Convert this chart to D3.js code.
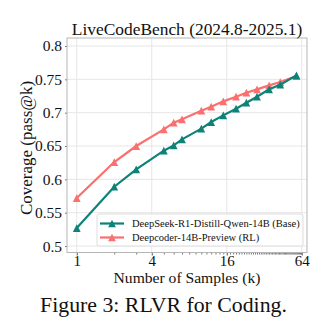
<!DOCTYPE html>
<html>
<head>
<meta charset="utf-8">
<script src="https://cdn.jsdelivr.net/npm/d3@7"></script>
<style>
  body { margin: 0; background: #fff; }
  svg text { font-family: "Liberation Serif", "Times New Roman", serif; fill: #111; }
</style>
</head>
<body>
<svg id="chart" width="334" height="324"></svg>
<script>
// sample counts (k) and pass@k coverage for each model
const samples = [1, 2, 3, 5, 6, 7, 10, 12, 15, 19, 23, 28, 35, 43, 58];
const baseCoverage = [0.527, 0.589, 0.615, 0.643, 0.651, 0.660, 0.676, 0.686, 0.696, 0.706, 0.715, 0.724, 0.735, 0.742, 0.756];
const rlCoverage = [0.572, 0.626, 0.650, 0.675, 0.685, 0.690, 0.703, 0.709, 0.717, 0.724, 0.730, 0.735, 0.741, 0.746, 0.755];
const seriesNames = ['DeepSeek-R1-Distill-Qwen-14B (Base)', 'Deepcoder-14B-Preview (RL)'];
const seriesColors = ['#0e8277', '#fb6f6f'];
const xTicks = [1, 4, 16, 64];
const yTicks = [0.5, 0.55, 0.6, 0.65, 0.7, 0.75, 0.8];

const plotLeft = 67, plotRight = 307, plotTop = 38, plotBottom = 252.5;
const svg = d3.select('#chart');

const xScale = d3.scaleLog().base(2)
                 .domain([Math.pow(2, -0.26), Math.pow(2, 6.14)])
                 .range([plotLeft, plotRight]);
const yScale = d3.scaleLinear()
                 .domain([0.4903, 0.812])
                 .range([plotBottom, plotTop]);

// grid
svg.append('g').selectAll('line').data(xTicks).join('line')
   .attr('x1', d => xScale(d)).attr('x2', d => xScale(d))
   .attr('y1', plotTop).attr('y2', plotBottom)
   .attr('stroke', '#e6e6e6').attr('stroke-width', 1);
svg.append('g').selectAll('line').data(yTicks).join('line')
   .attr('x1', plotLeft).attr('x2', plotRight)
   .attr('y1', d => yScale(d)).attr('y2', d => yScale(d))
   .attr('stroke', '#e6e6e6').attr('stroke-width', 1);

// minor ticks on the log axis
const minor = d3.range(1, 65).filter(d => !xTicks.includes(d) && xScale(d) <= plotRight);
const xAxis = d3.axisBottom(xScale).tickValues(xTicks).tickFormat(d3.format('d')).tickSize(3).tickPadding(1);
const xMinor = d3.axisBottom(xScale).tickValues(minor).tickFormat('').tickSize(2);
const yAxis = d3.axisLeft(yScale).tickValues(yTicks).tickFormat(d => String(d)).tickSize(2).tickPadding(3);

svg.append('g').attr('transform', 'translate(0,' + plotBottom + ')').call(xMinor)
   .call(g => g.select('.domain').remove())
   .call(g => g.selectAll('line').attr('stroke', '#777'));
svg.append('g').attr('transform', 'translate(0,' + plotBottom + ')').call(xAxis)
   .call(g => g.select('.domain').remove())
   .call(g => g.selectAll('line').attr('stroke', '#555'))
   .call(g => g.selectAll('text').style('font-size', '15px').attr('dy', '0.62em').attr('fill', '#111'));
svg.append('g').attr('transform', 'translate(' + plotLeft + ',0)').call(yAxis)
   .call(g => g.select('.domain').remove())
   .call(g => g.selectAll('line').attr('stroke', '#777'))
   .call(g => g.selectAll('text').style('font-size', '15.5px').attr('fill', '#111'));

// plot frame
svg.append('rect')
   .attr('x', plotLeft).attr('y', plotTop)
   .attr('width', plotRight - plotLeft).attr('height', plotBottom - plotTop)
   .attr('fill', 'none').attr('stroke', '#b5b5b5').attr('stroke-width', 1);

// triangle marker centred on its box, like matplotlib '^'
const tri = { draw(ctx, size) { const r = Math.sqrt(size) / 2; ctx.moveTo(0, -r); ctx.lineTo(r, r); ctx.lineTo(-r, r); ctx.closePath(); } };
const marker = d3.symbol().type(tri).size(60);

const line = d3.line().x(d => xScale(d[0])).y(d => yScale(d[1]));
const series = [rlCoverage, baseCoverage];
const colorsByDraw = [seriesColors[1], seriesColors[0]];

series.forEach((vals, i) => {
  const pts = samples.map((k, j) => [k, vals[j]]);
  svg.append('path').datum(pts)
     .attr('d', line)
     .attr('fill', 'none').attr('stroke', colorsByDraw[i]).attr('stroke-width', 2.2);
  svg.append('g').selectAll('path').data(pts).join('path')
     .attr('d', marker)
     .attr('transform', d => 'translate(' + xScale(d[0]) + ',' + yScale(d[1]) + ')')
     .attr('fill', colorsByDraw[i]);
});

// legend
const legend = svg.append('g');
legend.append('rect')
      .attr('x', 97).attr('y', 214).attr('width', 206).attr('height', 32).attr('rx', 2)
      .attr('fill', 'rgba(255,255,255,0.85)').attr('stroke', '#dddddd');
seriesNames.forEach((name, i) => {
  const y = 223.5 + i * 14;
  legend.append('line').attr('x1', 100).attr('x2', 124).attr('y1', y).attr('y2', y)
        .attr('stroke', seriesColors[i]).attr('stroke-width', 2.2);
  legend.append('path').attr('d', marker).attr('transform', 'translate(112,' + y + ')').attr('fill', seriesColors[i]);
  legend.append('text').attr('x', 132).attr('y', y + 3.5).style('font-size', '10.5px').text(name);
});

// titles
svg.append('text').attr('x', (plotLeft + plotRight) / 2).attr('y', 35).attr('text-anchor', 'middle')
   .style('font-size', '17.4px').text('LiveCodeBench (2024.8-2025.1)');
svg.append('text').attr('x', (plotLeft + plotRight) / 2).attr('y', 283).attr('text-anchor', 'middle')
   .style('font-size', '15.6px').text('Number of Samples (k)');
svg.append('text').attr('transform', 'translate(32,148) rotate(-90)').attr('text-anchor', 'middle')
   .style('font-size', '17px').text('Coverage (pass@k)');
svg.append('text').attr('x', 163.5).attr('y', 312).attr('text-anchor', 'middle')
   .style('font-size', '21.8px').text('Figure 3: RLVR for Coding.');
</script>
</body>
</html>
